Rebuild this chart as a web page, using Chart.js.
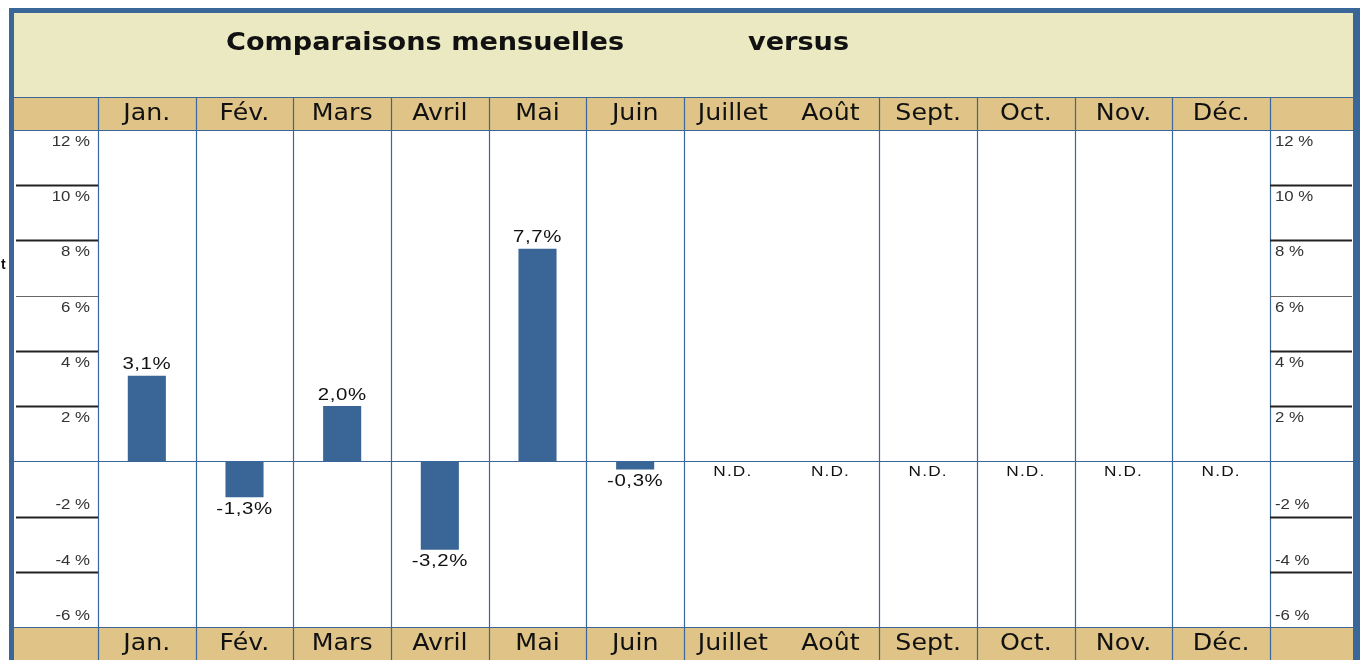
<!DOCTYPE html>
<html>
<head>
<meta charset="utf-8">
<script src="https://cdn.jsdelivr.net/npm/chart.js@4.4.0/dist/chart.umd.min.js"></script>
<style>
  body { margin: 0; background: #fff; }
  canvas { display: block; }
</style>
</head>
<body>
<canvas id="chart" width="1360" height="660"></canvas>
<script>
// data
const months = ['Jan.', 'Fév.', 'Mars', 'Avril', 'Mai', 'Juin', 'Juillet', 'Août', 'Sept.', 'Oct.', 'Nov.', 'Déc.'];
const values = [3.1, -1.3, 2.0, -3.2, 7.7, -0.3, null, null, null, null, null, null];
const valueLabels = ['3,1%', '-1,3%', '2,0%', '-3,2%', '7,7%', '-0,3%', 'N.D.', 'N.D.', 'N.D.', 'N.D.', 'N.D.', 'N.D.'];
const tickValues = [12, 10, 8, 6, 4, 2, -2, -4, -6];
const tickLabels = ['12 %', '10 %', '8 %', '6 %', '4 %', '2 %', '-2 %', '-4 %', '-6 %'];
const ruleValues = [10, 8, 6, 4, 2, -2, -4];
const titleParts = ['Comparaisons mensuelles', 'versus'];

// Juillet / Août share one cell
const mergedAfter = [6];

const BLUE = '#3b6798';
const BAR = '#396697';

function txt(ctx, s, x, y, font, color, align, sx, ls) {
  ctx.save();
  ctx.font = font;
  ctx.fillStyle = color;
  ctx.letterSpacing = (ls || 0) + 'px';
  ctx.textBaseline = 'middle';
  ctx.textAlign = 'left';
  var w = ctx.measureText(s).width * sx;
  var x0 = align === 'center' ? x - w / 2 : (align === 'right' ? x - w : x);
  ctx.translate(x0, y);
  ctx.scale(sx, 1);
  ctx.fillText(s, 0, 0);
  ctx.restore();
}

function hline(ctx, x1, x2, y, color, width) {
  ctx.save();
  ctx.strokeStyle = color;
  ctx.lineWidth = width;
  ctx.beginPath();
  ctx.moveTo(x1, y);
  ctx.lineTo(x2, y);
  ctx.stroke();
  ctx.restore();
}

function vline(ctx, x, y1, y2, color, width) {
  ctx.save();
  ctx.strokeStyle = color;
  ctx.lineWidth = width;
  ctx.beginPath();
  ctx.moveTo(x, y1);
  ctx.lineTo(x, y2);
  ctx.stroke();
  ctx.restore();
}

const tablePlugin = {
  id: 'table',
  beforeDraw(chart) {
    const ctx = chart.ctx;
    const a = chart.chartArea;
    const W = chart.width, H = chart.height;
    ctx.save();
    ctx.fillStyle = '#fff';
    ctx.fillRect(0, 0, W, H);
    // frame
    ctx.fillStyle = BLUE;
    ctx.fillRect(9, 8, W - 9, 5);
    ctx.fillRect(9, 8, 5, H - 8);
    ctx.fillRect(1353, 8, W - 1353, H - 8);
    // title band
    ctx.fillStyle = '#ebe9c2';
    ctx.fillRect(14, 13, 1339, a.top - 33 - 13);
    // header rows
    ctx.fillStyle = '#dfc387';
    ctx.fillRect(14, a.top - 33, 1339, 33);
    ctx.fillRect(14, a.bottom, 1339, H - a.bottom);
    ctx.restore();
  },
  beforeDatasetsDraw(chart) {
    const ctx = chart.ctx;
    const a = chart.chartArea;
    const x = chart.scales.x, y = chart.scales.y;
    const H = chart.height;
    const top = a.top - 33;

    // column separators
    const edges = [a.left];
    for (let i = 0; i < months.length - 1; i++) {
      if (mergedAfter.indexOf(i) >= 0) continue;
      edges.push((x.getPixelForValue(i) + x.getPixelForValue(i + 1)) / 2);
    }
    edges.push(a.right);
    edges.forEach(function (ex) { vline(ctx, Math.round(ex) + 0.5, top, H, BLUE, 1.2); });

    // row separators
    hline(ctx, 14, 1353, top + 0.5, BLUE, 1.2);
    hline(ctx, 14, 1353, a.top + 0.5, BLUE, 1.2);
    hline(ctx, 14, 1353, a.bottom + 0.5, BLUE, 1.2);
    hline(ctx, 14, 1353, Math.round(y.getPixelForValue(0)) + 0.5, BLUE, 1.2);

    // rules in side columns
    ruleValues.forEach(function (v) {
      const py = Math.round(y.getPixelForValue(v));
      const thin = v === 6;
      hline(ctx, 16, a.left, py + 0.5, thin ? '#666' : '#222', thin ? 1 : 2);
      hline(ctx, a.right, 1352, py + 0.5, thin ? '#666' : '#222', thin ? 1 : 2);
    });
  },
  afterDatasetsDraw(chart) {
    const ctx = chart.ctx;
    const a = chart.chartArea;
    const x = chart.scales.x, y = chart.scales.y;
    const meta = chart.getDatasetMeta(0);
    const zero = y.getPixelForValue(0);

    // value labels
    valueLabels.forEach(function (s, i) {
      const v = values[i];
      const px = x.getPixelForValue(i);
      if (v === null) {
        txt(ctx, s, px, zero + 11, '15px "Liberation Sans"', '#111', 'center', 1.15, 1);
      } else if (v >= 0) {
        txt(ctx, s, px, meta.data[i].y - 11, '17px "Liberation Sans"', '#111', 'center', 1.2, 0.5);
      } else {
        txt(ctx, s, px, meta.data[i].y + 12, '17px "Liberation Sans"', '#111', 'center', 1.2, 0.5);
      }
    });

    // tick labels, both sides
    tickValues.forEach(function (v, i) {
      const py = y.getPixelForValue(v) + (v > 0 ? 12 : -11);
      txt(ctx, tickLabels[i], 90, py, '14px "Liberation Sans"', '#333', 'right', 1.2, 0);
      txt(ctx, tickLabels[i], 1275, py, '14px "Liberation Sans"', '#333', 'left', 1.2, 0);
    });

    // month headers, top and bottom
    months.forEach(function (m, i) {
      const px = x.getPixelForValue(i);
      txt(ctx, m, px, a.top - 16, '23px "DejaVu Sans"', '#111', 'center', 1.1, 0);
      txt(ctx, m, px, a.bottom + 17, '23px "DejaVu Sans"', '#111', 'center', 1.1, 0);
    });

    // title
    txt(ctx, titleParts[0], 226, 44, 'bold 24px "DejaVu Sans"', '#111', 'left', 1.13, 0);
    txt(ctx, titleParts[1], 748, 44, 'bold 24px "DejaVu Sans"', '#111', 'left', 1.13, 0);

    // clipped text left of the frame
    txt(ctx, 't', 1, 265, 'bold 14px "Liberation Sans"', '#111', 'left', 1, 0);
  }
};

new Chart(document.getElementById('chart').getContext('2d'), {
  type: 'bar',
  data: {
    labels: months,
    datasets: [{
      label: 'Variation',
      data: values,
      backgroundColor: BAR,
      borderWidth: 0,
      barPercentage: 0.39,
      categoryPercentage: 1
    }]
  },
  options: {
    responsive: false,
    animation: false,
    layout: {
      padding: { left: 98, right: 90, top: 130, bottom: 33 }
    },
    plugins: {
      legend: { display: false },
      tooltip: { enabled: false }
    },
    scales: {
      x: { display: false },
      y: { display: false, min: -6, max: 12 }
    }
  },
  plugins: [tablePlugin]
});
</script>
</body>
</html>
